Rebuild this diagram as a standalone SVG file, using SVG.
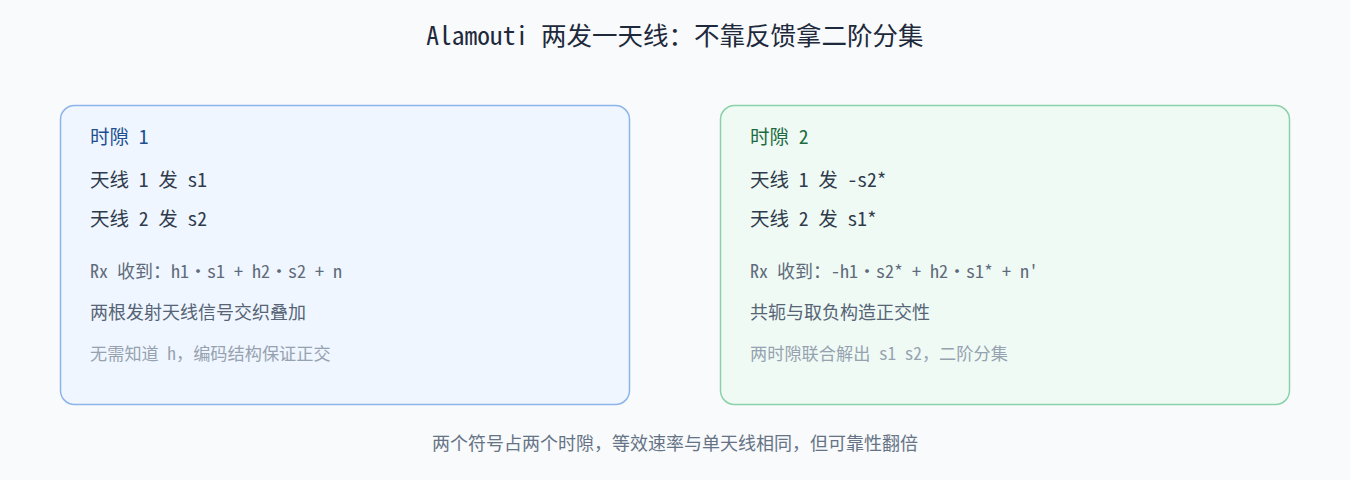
<svg xmlns="http://www.w3.org/2000/svg" width="1350" height="480" viewBox="0 0 1350 480">
<style>
text{font-family:"Noto Sans Mono CJK SC","Noto Sans CJK SC",monospace}
.title{font-size:25.5px;fill:#1e293b}
.head{font-size:19.5px}
.line{font-size:19.5px;fill:#2f3b4c}
.rx{font-size:18px;fill:#5f6b7a}
.desc{font-size:18px;fill:#566476}
.note{font-size:17.2px;fill:#96a2af}
.cap{font-size:18px;fill:#667385}
.card{stroke-width:1.5}
</style>
<rect x="0" y="0" width="1350" height="480" fill="#f8fafc"/>
<text class="title" x="675" y="45" text-anchor="middle">Alamouti 两发一天线：不靠反馈拿二阶分集</text>
<g id="slot1">
<rect class="card" x="60.5" y="105.5" width="569" height="299" rx="14" fill="#eff6ff" stroke="#8db4ea"/>
<text class="head" x="90" y="144" fill="#1e4f8f">时隙 1</text>
<text class="line" x="90" y="187">天线 1 发 s1</text>
<text class="line" x="90" y="226">天线 2 发 s2</text>
<text class="rx" x="90" y="278">Rx 收到：h1·s1 + h2·s2 + n</text>
<text class="desc" x="90" y="319">两根发射天线信号交织叠加</text>
<text class="note" x="90" y="360">无需知道 h，编码结构保证正交</text>
</g>
<g id="slot2">
<rect class="card" x="720.5" y="105.5" width="569" height="299" rx="14" fill="#effaf5" stroke="#8ad1a8"/>
<text class="head" x="750" y="144" fill="#1d6b3f">时隙 2</text>
<text class="line" x="750" y="187">天线 1 发 -s2*</text>
<text class="line" x="750" y="226">天线 2 发 s1*</text>
<text class="rx" x="750" y="278">Rx 收到：-h1·s2* + h2·s1* + n'</text>
<text class="desc" x="750" y="319">共轭与取负构造正交性</text>
<text class="note" x="750" y="360">两时隙联合解出 s1 s2，二阶分集</text>
</g>
<g id="connectors"></g>
<text class="cap" x="675" y="450" text-anchor="middle">两个符号占两个时隙，等效速率与单天线相同，但可靠性翻倍</text>
</svg>
